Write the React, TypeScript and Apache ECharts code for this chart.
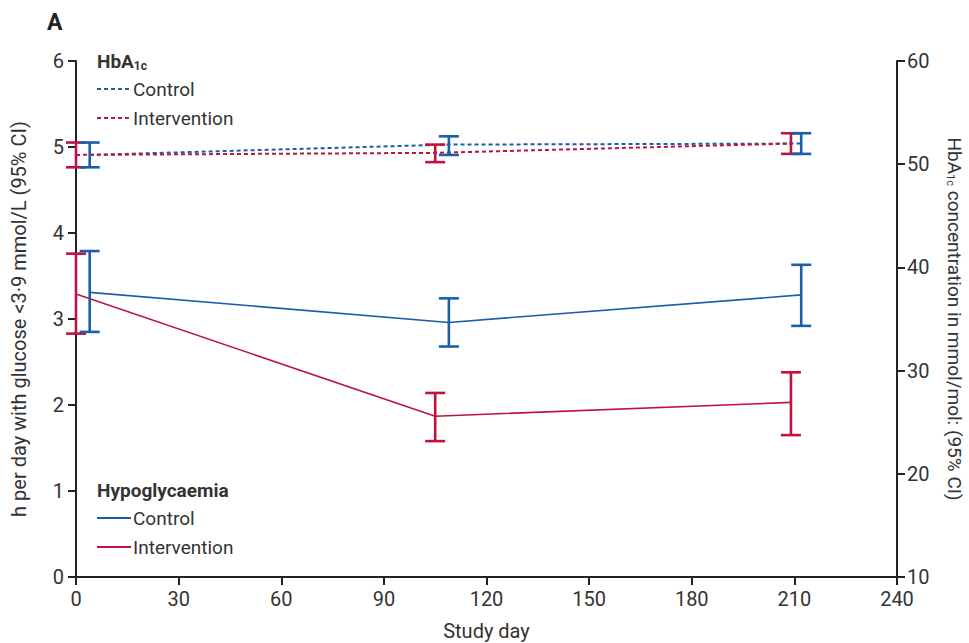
import React, { useEffect, useRef } from "react";
import * as echarts from "echarts";

// ---- Data ----
const xTicks = [0, 30, 60, 90, 120, 150, 180, 210, 240];

// Hypoglycaemia (left axis, h per day)
const hypoControlDays = [4, 109, 212];
const hypoControlMean = [3.31, 2.96, 3.28];
const hypoControlLow = [2.85, 2.68, 2.92];
const hypoControlHigh = [3.79, 3.24, 3.63];

const hypoInterventionDays = [0, 105, 209];
const hypoInterventionMean = [3.29, 1.87, 2.03];
const hypoInterventionLow = [2.83, 1.58, 1.65];
const hypoInterventionHigh = [3.76, 2.14, 2.38];

// HbA1c (right axis, mmol/mol)
const hbaControlDays = [4, 109, 212];
const hbaControlMean = [50.9, 51.9, 52.0];
const hbaControlLow = [49.7, 50.9, 51.0];
const hbaControlHigh = [52.1, 52.7, 53.0];

const hbaInterventionDays = [0, 105, 209];
const hbaInterventionMean = [50.9, 51.1, 52.0];
const hbaInterventionLow = [49.7, 50.2, 51.0];
const hbaInterventionHigh = [52.1, 51.9, 53.0];

const BLUE = "#1a5ea8";
const RED = "#c0123f";
const TEXT = "#333333";
const AXIS = "#222222";
const FONT = "Roboto, 'Open Sans', sans-serif";

function pairs(days: number[], vals: number[]) {
  return days.map((d, i) => [d, vals[i]]);
}
function triples(days: number[], lo: number[], hi: number[]) {
  return days.map((d, i) => [d, lo[i], hi[i]]);
}

function errorBarSeries(data: number[][], color: string, yAxisIndex: number) {
  return {
    type: "custom",
    yAxisIndex,
    clip: false,
    z: 5,
    encode: { x: 0, y: [1, 2] },
    data,
    renderItem: (params: any, api: any) => {
      const x = api.value(0);
      const lo = api.coord([x, api.value(1)]);
      const hi = api.coord([x, api.value(2)]);
      const half = 10;
      const style = { stroke: color, lineWidth: 2.6 };
      return {
        type: "group",
        children: [
          { type: "line", shape: { x1: lo[0], y1: lo[1], x2: hi[0], y2: hi[1] }, style },
          { type: "line", shape: { x1: hi[0] - half, y1: hi[1], x2: hi[0] + half, y2: hi[1] }, style },
          { type: "line", shape: { x1: lo[0] - half, y1: lo[1], x2: lo[0] + half, y2: lo[1] }, style },
        ],
      };
    },
  };
}

export default function App() {
  const ref = useRef<HTMLDivElement>(null);

  useEffect(() => {
    document.body.style.margin = "0";
    if (!ref.current) return;
    const chart = echarts.init(ref.current, undefined, { renderer: "svg" });

    const axisCommon = {
      axisLine: { show: true, lineStyle: { color: AXIS, width: 2 } },
      axisTick: { show: true, length: 8, lineStyle: { color: AXIS, width: 2 } },
      splitLine: { show: false },
    };

    const legendText = (x: number, y: number, text: string, bold = false) => ({
      type: "text",
      x,
      y,
      style: {
        text,
        fill: TEXT,
        font: `${bold ? "bold " : ""}19px ${FONT}`,
        verticalAlign: "middle",
      },
    });
    const legendLine = (x: number, y: number, color: string, dashed: boolean) => ({
      type: "line",
      shape: { x1: x, y1: y, x2: x + 34, y2: y },
      style: { stroke: color, lineWidth: 2, lineDash: dashed ? [4, 3] : null },
    });

    chart.setOption({
      animation: false,
      grid: { left: 76, right: 72, top: 61, bottom: 66, containLabel: false, outerBoundsMode: "none" },
      xAxis: {
        type: "value",
        min: 0,
        max: 240,
        interval: 30,
        name: "Study day",
        nameLocation: "middle",
        nameGap: 44,
        nameTextStyle: { fontSize: 20, color: TEXT, fontFamily: FONT },
        axisLabel: {
          fontSize: 20,
          color: TEXT,
          fontFamily: FONT,
          margin: 12,
          formatter: (v: number) => (xTicks.includes(v) ? String(v) : ""),
        },
        ...axisCommon,
      },
      yAxis: [
        {
          type: "value",
          min: 0,
          max: 6,
          interval: 1,
          position: "left",
          name: "h per day with glucose <3·9 mmol/L (95% CI)",
          nameLocation: "middle",
          nameGap: 47,
          nameTextStyle: { fontSize: 20, color: TEXT, fontFamily: FONT },
          axisLabel: { fontSize: 20, color: TEXT, fontFamily: FONT, margin: 12 },
          ...axisCommon,
        },
        {
          type: "value",
          min: 10,
          max: 60,
          interval: 10,
          position: "right",
          name: "{a|HbA}{s|1c}{a| concentration in mmol/mol: (95% CI)}",
          nameLocation: "middle",
          nameRotate: -90,
          nameGap: 48,
          nameTextStyle: {
            fontSize: 19,
            color: TEXT,
            fontFamily: FONT,
            rich: {
              a: { fontSize: 19, color: TEXT, fontFamily: FONT },
              s: { fontSize: 11, color: TEXT, fontFamily: FONT, verticalAlign: "bottom", padding: [8, 0, 0, 0] },
            },
          },
          axisLabel: { fontSize: 20, color: TEXT, fontFamily: FONT, margin: 10 },
          ...axisCommon,
        },
      ],
      series: [
        {
          type: "line",
          name: "Hypo Control",
          yAxisIndex: 0,
          data: pairs(hypoControlDays, hypoControlMean),
          symbol: "none",
          lineStyle: { color: BLUE, width: 1.6 },
          z: 3,
        },
        {
          type: "line",
          name: "Hypo Intervention",
          yAxisIndex: 0,
          data: pairs(hypoInterventionDays, hypoInterventionMean),
          symbol: "none",
          lineStyle: { color: RED, width: 1.6 },
          z: 3,
        },
        {
          type: "line",
          name: "HbA1c Control",
          yAxisIndex: 1,
          data: pairs(hbaControlDays, hbaControlMean),
          symbol: "none",
          lineStyle: { color: BLUE, width: 2, type: [4, 3] },
          z: 3,
        },
        {
          type: "line",
          name: "HbA1c Intervention",
          yAxisIndex: 1,
          data: pairs(hbaInterventionDays, hbaInterventionMean),
          symbol: "none",
          lineStyle: { color: RED, width: 2, type: [4, 3] },
          z: 3,
        },
        errorBarSeries(triples(hypoInterventionDays, hypoInterventionLow, hypoInterventionHigh), RED, 0),
        errorBarSeries(triples(hypoControlDays, hypoControlLow, hypoControlHigh), BLUE, 0),
        errorBarSeries(triples(hbaInterventionDays, hbaInterventionLow, hbaInterventionHigh), RED, 1),
        errorBarSeries(triples(hbaControlDays, hbaControlLow, hbaControlHigh), BLUE, 1),
      ],
      graphic: [
        {
          type: "text",
          x: 47,
          y: 22,
          style: { text: "A", fill: "#222", font: `bold 23px ${FONT}`, verticalAlign: "middle" },
        },
        {
          type: "text",
          x: 97,
          y: 61,
          style: {
            text: "{b|HbA}{s|1c}",
            fill: TEXT,
            verticalAlign: "middle",
            rich: {
              b: { fontSize: 19, fontWeight: "bold", fill: TEXT, fontFamily: FONT },
              s: { fontSize: 12, fontWeight: "bold", fill: TEXT, fontFamily: FONT, padding: [10, 0, 0, 0] },
            },
          },
        },
        legendLine(97, 89, BLUE, true),
        legendText(133, 89, "Control"),
        legendLine(97, 118, RED, true),
        legendText(133, 118, "Intervention"),
        legendText(97, 490, "Hypoglycaemia", true),
        legendLine(97, 518, BLUE, false),
        legendText(133, 518, "Control"),
        legendLine(97, 547, RED, false),
        legendText(133, 547, "Intervention"),
      ],
    });

    return () => chart.dispose();
  }, []);

  return <div ref={ref} style={{ width: 969, height: 643 }} />;
}
